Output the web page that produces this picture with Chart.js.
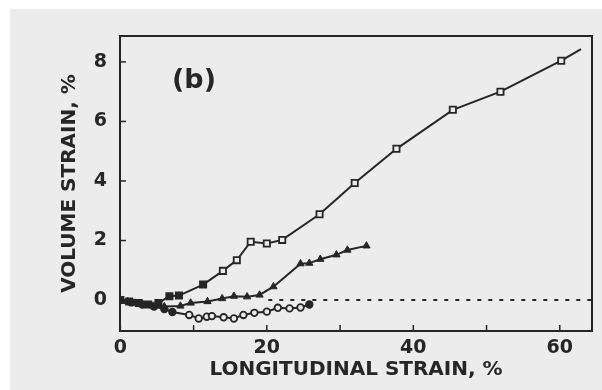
<!DOCTYPE html>
<html>
<head>
<meta charset="utf-8">
<script src="https://cdn.jsdelivr.net/npm/chart.js@4"></script>
<style>
  html, body { margin: 0; padding: 0; background: #ffffff; }
  #paper {
    position: absolute; left: 10px; top: 9px;
    width: 592px; height: 381px; background: #ececec;
  }
</style>
</head>
<body>
<div id="paper"><canvas id="chart" width="592" height="381"></canvas></div>
<script>
// curva de cuadrados (abiertos)
const squareX = [0, 1.2, 2.5, 3.8, 5.2, 6.7, 8.0, 11.3, 14.0, 15.9, 17.8, 20.0, 22.1, 27.2, 32.0, 37.7, 45.4, 51.9, 60.2, 62.9];
const squareY = [0, -0.05, -0.1, -0.15, -0.1, 0.13, 0.15, 0.52, 0.98, 1.34, 1.96, 1.9, 2.02, 2.88, 3.93, 5.08, 6.39, 7.0, 8.04, 8.43];
// curva de triangulos (rellenos)
const triX = [0, 1, 2, 3, 4.5, 6, 8.2, 9.6, 11.9, 13.9, 15.5, 17.3, 19.0, 20.9, 24.6, 25.8, 27.3, 29.5, 31.0, 33.6];
const triY = [0.02, -0.05, -0.1, -0.15, -0.2, -0.22, -0.2, -0.1, -0.05, 0.05, 0.13, 0.11, 0.17, 0.45, 1.22, 1.24, 1.37, 1.52, 1.68, 1.82];
// curva de circulos (abiertos)
const circX = [0, 1.5, 3, 4.6, 6, 7.1, 9.4, 10.7, 11.8, 12.5, 14.1, 15.5, 16.8, 18.3, 20.0, 21.5, 23.1, 24.6, 25.8];
const circY = [0, -0.08, -0.15, -0.22, -0.3, -0.4, -0.5, -0.62, -0.56, -0.54, -0.58, -0.62, -0.5, -0.43, -0.39, -0.26, -0.28, -0.25, -0.15];
// linea punteada de referencia
const zeroX = [20.2, 64.4];
const zeroY = [0, 0];

const xTicks = [0, 10, 20, 30, 40, 50, 60];
const xLabels = ['0', '', '20', '', '40', '', '60'];
const yTicks = [0, 2, 4, 6, 8];

const INK = '#262626';
const PAPER = '#ececec';
const FONT = '"DejaVu Sans", sans-serif';

const pts = (xs, ys) => xs.map((x, i) => ({ x: x, y: ys[i] }));

// los primeros puntos cerca del origen salen rellenos
const fillFirst = (n, len) => Array.from({ length: len }, (_, i) => i < n ? INK : PAPER);

// marcas de escala hacia dentro, marco y rotulo (b)
const framePlugin = {
  id: 'frame',
  afterDatasetsDraw(chart) {
    const { ctx, chartArea: a, scales } = chart;
    ctx.save();
    ctx.strokeStyle = INK;
    ctx.lineWidth = 2;
    ctx.strokeRect(a.left, a.top, a.right - a.left, a.bottom - a.top);
    ctx.lineWidth = 1.5;
    xTicks.forEach(v => {
      const px = scales.x.getPixelForValue(v);
      ctx.beginPath();
      ctx.moveTo(px, a.bottom);
      ctx.lineTo(px, a.bottom - 6);
      ctx.stroke();
    });
    yTicks.forEach(v => {
      const py = scales.y.getPixelForValue(v);
      ctx.beginPath();
      ctx.moveTo(a.left, py);
      ctx.lineTo(a.left + 6, py);
      ctx.stroke();
    });
    ctx.fillStyle = INK;
    ctx.font = '600 27px ' + FONT;
    ctx.textAlign = 'left';
    ctx.textBaseline = 'middle';
    ctx.fillText('(b)', a.left + 52, a.top + 45);
    ctx.restore();
  }
};

new Chart(document.getElementById('chart'), {
  type: 'scatter',
  data: {
    datasets: [
      {
        data: pts(zeroX, zeroY),
        showLine: true,
        borderColor: INK,
        borderWidth: 2,
        borderDash: [4, 7],
        pointRadius: 0
      },
      {
        data: pts(circX, circY),
        showLine: true,
        borderColor: INK,
        borderWidth: 2,
        pointStyle: 'circle',
        pointRadius: 3.3,
        pointBorderWidth: 1.8,
        pointBorderColor: INK,
        pointBackgroundColor: fillFirst(6, circX.length).map((c, i) => i === circX.length - 1 ? INK : c)
      },
      {
        data: pts(triX, triY),
        showLine: true,
        borderColor: INK,
        borderWidth: 2,
        pointStyle: 'triangle',
        pointRadius: 4.2,
        pointBorderWidth: 1,
        pointBorderColor: INK,
        pointBackgroundColor: INK
      },
      {
        data: pts(squareX, squareY),
        showLine: true,
        borderColor: INK,
        borderWidth: 2,
        pointStyle: 'rect',
        pointRadius: squareX.map((x, i) => i === squareX.length - 1 ? 0 : 4.4),
        pointBorderWidth: 1.8,
        pointBorderColor: INK,
        pointBackgroundColor: fillFirst(8, squareX.length)
      }
    ]
  },
  options: {
    responsive: false,
    animation: false,
    layout: { padding: { top: 27, right: 10, left: 0, bottom: 0 } },
    plugins: {
      legend: { display: false },
      tooltip: { enabled: false }
    },
    scales: {
      x: {
        type: 'linear',
        min: -0.05,
        max: 64.4,
        grid: { display: false, drawTicks: false },
        border: { display: false },
        afterBuildTicks: s => { s.ticks = xTicks.map(v => ({ value: v })); },
        afterFit: s => { s.height = 59; },
        ticks: {
          padding: 6,
          color: INK,
          font: { family: FONT, size: 19, weight: 'bold' },
          callback: v => xLabels[xTicks.indexOf(v)]
        },
        title: {
          display: true,
          text: 'LONGITUDINAL STRAIN, %',
          color: INK,
          padding: { top: 0, bottom: 8 },
          font: { family: FONT, size: 20, weight: 'bold' }
        }
      },
      y: {
        type: 'linear',
        min: -1.04,
        max: 8.87,
        grid: { display: false, drawTicks: false },
        border: { display: false },
        afterBuildTicks: s => { s.ticks = yTicks.map(v => ({ value: v })); },
        afterFit: s => { s.width = 110; },
        ticks: {
          padding: 13,
          color: INK,
          font: { family: FONT, size: 19, weight: 'bold' }
        },
        title: {
          display: true,
          text: 'VOLUME STRAIN, %',
          color: INK,
          padding: { top: 48, bottom: 0 },
          font: { family: FONT, size: 20, weight: 'bold' }
        }
      }
    }
  },
  plugins: [framePlugin]
});
</script>
</body>
</html>
